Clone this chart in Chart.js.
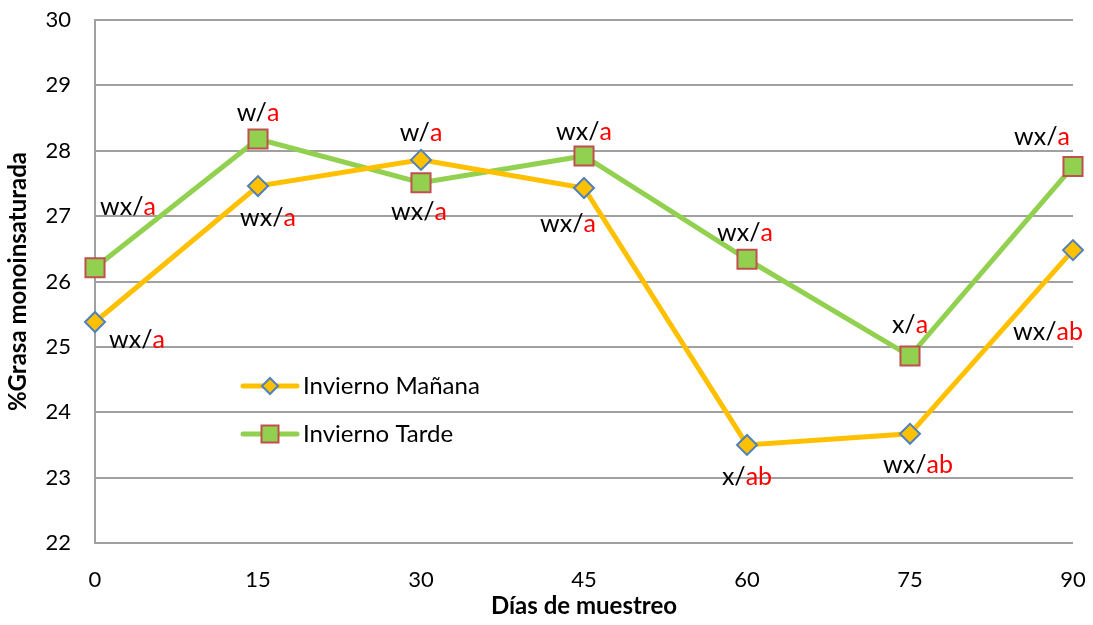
<!DOCTYPE html>
<html>
<head>
<meta charset="utf-8">
<script src="https://cdn.jsdelivr.net/npm/chart.js@4.4.0/dist/chart.umd.min.js"></script>
<style>
  html, body { margin: 0; padding: 0; background: #fff; }
  #wrap { width: 1093px; height: 625px; }
</style>
</head>
<body>
<div id="wrap"><canvas id="grafico"></canvas></div>
<script>
// datos
var dias = ['0', '15', '30', '45', '60', '75', '90'];
var inviernoManana = [25.38, 27.46, 27.86, 27.43, 23.50, 23.67, 26.48];
var inviernoTarde = [26.21, 28.18, 27.51, 27.92, 26.34, 24.86, 27.76];
var yTicks = [22, 23, 24, 25, 26, 27, 28, 29, 30];

// letras de significancia (negro / rojo)
var mananaLetras1 = ['wx/', 'wx/', 'w/', 'wx/', 'x/', 'wx/', 'wx/'];
var mananaLetras2 = ['a', 'a', 'a', 'a', 'ab', 'ab', 'ab'];
var tardeLetras1 = ['wx/', 'w/', 'wx/', 'wx/', 'wx/', 'x/', 'wx/'];
var tardeLetras2 = ['a', 'a', 'a', 'a', 'a', 'a', 'a'];

// desplazamiento de cada etiqueta respecto a su punto (px)
var mananaOffset = [[42, 18], [10, 32], [0, -27], [-16, 36], [0, 32], [8, 31], [-25, 82]];
var tardeOffset = [[33, -61], [0, -26], [-2, 29], [0, -24], [-2, -26], [0, -31], [-31, -30]];

var fuente = 'Lato, "Open Sans", sans-serif';

var etiquetasPlugin = {
    id: 'etiquetas',
    afterDatasetsDraw: function(chart) {
        var ctx = chart.ctx;
        ctx.save();
        ctx.font = '25px ' + fuente;
        ctx.textBaseline = 'middle';
        var grupos = [
            [0, mananaLetras1, mananaLetras2, mananaOffset],
            [1, tardeLetras1, tardeLetras2, tardeOffset]
        ];
        grupos.forEach(function(g) {
            var meta = chart.getDatasetMeta(g[0]);
            meta.data.forEach(function(pt, i) {
                var t1 = g[1][i], t2 = g[2][i];
                var w1 = ctx.measureText(t1).width;
                var w2 = ctx.measureText(t2).width;
                var x = pt.x + g[3][i][0] - (w1 + w2) / 2;
                var y = pt.y + g[3][i][1];
                ctx.textAlign = 'left';
                ctx.fillStyle = '#000';
                ctx.fillText(t1, x, y);
                ctx.fillStyle = '#ff0000';
                ctx.fillText(t2, x + w1, y);
            });
        });
        ctx.restore();
    }
};

var leyendaPlugin = {
    id: 'leyenda',
    afterDatasetsDraw: function(chart) {
        var ctx = chart.ctx;
        ctx.save();
        ctx.font = '24px ' + fuente;
        ctx.textBaseline = 'middle';
        var x0 = 243, x1 = 297, ys = [386, 434];
        chart.data.datasets.forEach(function(ds, i) {
            var y = ys[i];
            var cx = (x0 + x1) / 2;
            ctx.strokeStyle = ds.borderColor;
            ctx.lineWidth = 5;
            ctx.lineCap = 'round';
            ctx.beginPath();
            ctx.moveTo(x0, y);
            ctx.lineTo(x1, y);
            ctx.stroke();
            ctx.fillStyle = ds.pointBackgroundColor;
            ctx.strokeStyle = ds.pointBorderColor;
            ctx.lineWidth = 2;
            ctx.beginPath();
            var r = ds.legendRadius;
            if (ds.pointStyle === 'rectRot') {
                ctx.moveTo(cx, y - r); ctx.lineTo(cx + r, y); ctx.lineTo(cx, y + r); ctx.lineTo(cx - r, y); ctx.closePath();
            } else {
                ctx.rect(cx - r, y - r, 2 * r, 2 * r);
            }
            ctx.fill();
            ctx.stroke();
            ctx.fillStyle = '#000';
            ctx.textAlign = 'left';
            ctx.fillText(ds.label, 303, y);
        });
        ctx.restore();
    }
};

var ctx = document.getElementById('grafico').getContext('2d');
var grafico = new Chart(ctx, {
    type: 'line',
    data: {
        labels: dias,
        datasets: [{
            label: 'Invierno Mañana',
            data: inviernoManana,
            borderColor: '#ffc000',
            borderWidth: 5,
            pointStyle: 'rectRot',
            pointRadius: 10,
            pointBackgroundColor: '#ffc000',
            pointBorderColor: '#4f81bd',
            pointBorderWidth: 2,
            legendRadius: 8,
            tension: 0
        }, {
            label: 'Invierno Tarde',
            data: inviernoTarde,
            borderColor: '#92d050',
            borderWidth: 5,
            pointStyle: 'rect',
            pointRadius: 13.5,
            pointBackgroundColor: '#92d050',
            pointBorderColor: '#c0504d',
            pointBorderWidth: 2,
            legendRadius: 8.5,
            tension: 0
        }]
    },
    options: {
        responsive: true,
        maintainAspectRatio: false,
        animation: false,
        layout: { autoPadding: false, padding: { top: 20, right: 20, left: 0, bottom: 0 } },
        plugins: {
            legend: { display: false },
            tooltip: { enabled: false }
        },
        scales: {
            x: {
                type: 'category',
                offset: false,
                grid: { display: true, color: 'rgba(0,0,0,0)', drawTicks: true, tickLength: 24, tickColor: 'rgba(0,0,0,0)' },
                border: { display: false },
                ticks: { color: '#000', font: { family: fuente, size: 22 }, padding: 0, maxRotation: 0 },
                title: { display: true, text: 'Días de muestreo', color: '#000', font: { family: fuente, size: 24, weight: 'bold' }, padding: { top: 2 } },
                afterFit: function(scale) { scale.height = 82; }
            },
            y: {
                min: 22,
                max: 30,
                afterBuildTicks: function(scale) {
                    scale.ticks = yTicks.map(function(v) { return { value: v }; });
                },
                grid: { color: '#a0a0a0', lineWidth: 2, drawTicks: true, tickLength: 24, tickColor: 'rgba(0,0,0,0)' },
                border: { display: true, color: '#a0a0a0', width: 2 },
                ticks: { color: '#000', font: { family: fuente, size: 22 }, padding: 0 },
                title: { display: true, text: '%Grasa monoinsaturada', color: '#000', font: { family: fuente, size: 24, weight: 'bold' }, padding: { bottom: 8 } },
                afterFit: function(scale) { scale.width = 95; }
            }
        }
    },
    plugins: [etiquetasPlugin, leyendaPlugin]
});
</script>
</body>
</html>
